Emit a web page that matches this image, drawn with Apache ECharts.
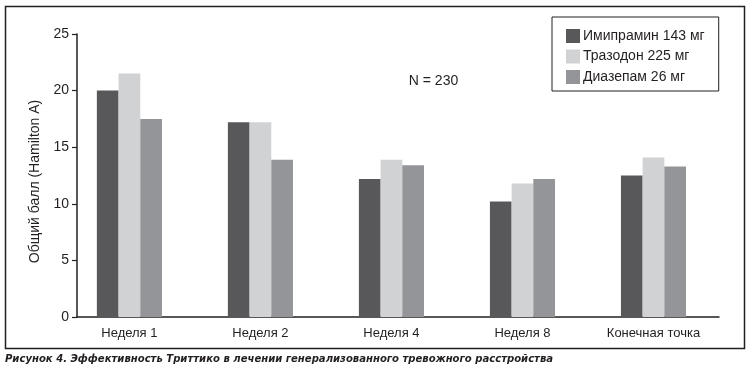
<!DOCTYPE html>
<html><head><meta charset="utf-8">
<script src="https://cdn.jsdelivr.net/npm/echarts@6/dist/echarts.min.js"></script>
<style>html,body{margin:0;padding:0;background:#fff}#c{width:752px;height:372px}</style>
</head><body><div id="c"></div>
<script>
var categories = ['Неделя 1', 'Неделя 2', 'Неделя 4', 'Неделя 8', 'Конечная точка'];
var seriesNames = ['Имипрамин 143 мг', 'Тразодон 225 мг', 'Диазепам 26 мг'];
var imipramine = [20.0, 17.2, 12.2, 10.2, 12.5];
var trazodone = [21.5, 17.2, 13.9, 11.8, 14.1];
var diazepam = [17.5, 13.9, 13.4, 12.2, 13.3];
var yTicks = [0, 5, 10, 15, 20, 25];
var yTitle = 'Общий балл (Hamilton A)';
var note = 'N = 230';
var caption = 'Рисунок 4. Эффективность Триттико в лечении генерализованного тревожного расстройства';

var colors = ['#58585a', '#d1d2d4', '#939598'];
var ink = '#231f20';
var font = '"Liberation Sans", Arial, Helvetica, sans-serif';
var catIdx = categories.map(function (c, i) { return i; });
function pts(arr) { return arr.map(function (v, i) { return [catIdx[i], v]; }); }
var allSeries = [imipramine, trazodone, diazepam].map(function (arr, k) {
  return {
    name: seriesNames[k], type: 'bar', data: pts(arr),
    barWidth: 21.7, barGap: '0%',
    itemStyle: { color: colors[k] }, silent: true
  };
});

var chart = echarts.init(document.getElementById('c'), null, { renderer: 'canvas' });
chart.setOption({
  animation: false,
  backgroundColor: '#fff',
  grid: { left: 77, right: 33, top: 34, bottom: 55 },
  legend: {
    left: 552, top: 17, orient: 'vertical',
    itemWidth: 14, itemHeight: 14, itemGap: 6.5,
    padding: [12, 14, 7, 14],
    borderColor: ink, borderWidth: 1,
    icon: 'rect',
    textStyle: { fontFamily: font, fontSize: 14, color: ink, padding: [0, 0, 0, -2] },
    data: seriesNames
  },
  xAxis: {
    type: 'value', min: -0.4, max: 4.5,
    axisLine: { show: true, onZero: false, lineStyle: { color: ink, width: 1.5 } },
    axisTick: { show: false },
    splitLine: { show: false },
    axisLabel: {
      customValues: catIdx,
      formatter: function (v) { return categories[Math.round(v)]; },
      fontFamily: font, fontSize: 13, color: ink, margin: 10
    }
  },
  yAxis: {
    type: 'value', min: yTicks[0], max: yTicks[yTicks.length - 1], interval: 5,
    name: yTitle, nameLocation: 'middle', nameGap: 33, nameRotate: 90,
    nameTextStyle: { fontFamily: font, fontSize: 14, color: ink, padding: [0, 12, 0, 0] },
    axisLine: { show: true, onZero: false, lineStyle: { color: ink, width: 1.5 } },
    axisTick: { show: true, length: 5, lineStyle: { color: ink, width: 1.2 } },
    splitLine: { show: false },
    axisLabel: { fontFamily: font, fontSize: 14, color: ink, margin: 8 }
  },
  graphic: [
    { type: 'rect', shape: { x: 5.5, y: 6.5, width: 739, height: 342 }, style: { fill: 'none', stroke: ink, lineWidth: 1.5 }, silent: true, z: -1 },
    { type: 'text', x: 433.5, y: 81, style: { text: note, fontFamily: font, fontSize: 14, fill: ink, align: 'center', verticalAlign: 'middle' } },
    { type: 'text', x: 5, y: 359, style: { text: caption, fontFamily: '"Liberation Sans Narrow", "DejaVu Sans Condensed", Arial, sans-serif', fontSize: 11.2, fontWeight: 'bold', fontStyle: 'italic', fill: ink, align: 'left', verticalAlign: 'middle' } }
  ],
  series: allSeries
});
</script></body></html>
